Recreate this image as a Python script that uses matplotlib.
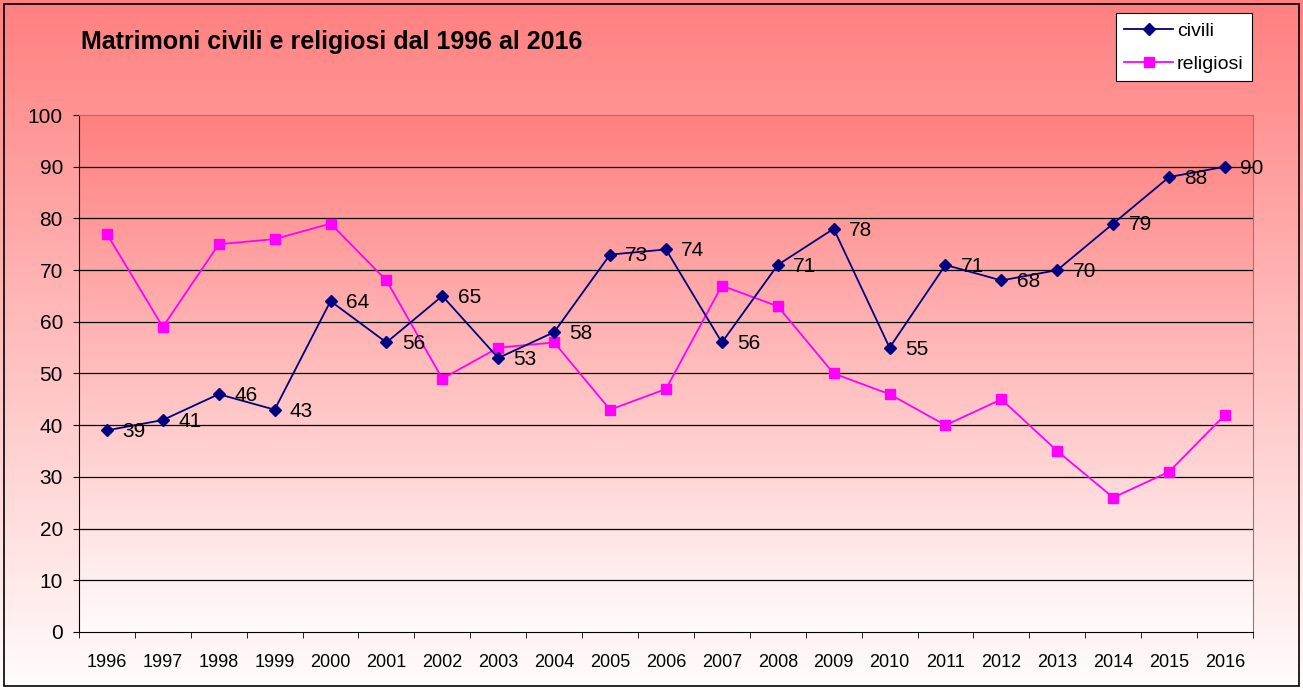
import numpy as np
import matplotlib
matplotlib.use('Agg')
import matplotlib.pyplot as plt
from matplotlib import colors
from matplotlib.patches import Rectangle

plt.rcParams['font.family'] = ['Liberation Sans', 'DejaVu Sans']

anni = [str(a) for a in range(1996, 2017)]
civili = [39, 41, 46, 43, 64, 56, 65, 53, 58, 73, 74, 56, 71, 78, 55, 71, 68, 70, 79, 88, 90]
religiosi = [77, 59, 75, 76, 79, 68, 49, 55, 56, 43, 47, 67, 63, 50, 46, 40, 45, 35, 26, 31, 42]

# red -> white gradient like the old excel fill
grad = colors.LinearSegmentedColormap.from_list('rosa', ['#ffffff', '#ff8080'])
g = np.linspace(0, 1, 256).reshape(-1, 1)

fig = plt.figure(figsize=(13.03, 6.90), dpi=100)

# figure background
bg = fig.add_axes([0, 0, 1, 1], zorder=-10)
bg.imshow(g, aspect='auto', cmap=grad, origin='lower', extent=[0, 1, 0, 1], vmin=-0.02, vmax=1)
bg.axis('off')
fig.patches.append(Rectangle((0.003, 0.006), 0.994, 0.988, transform=fig.transFigure,
                             fill=False, edgecolor='black', lw=1.2))

ax = fig.add_axes([0.0606, 0.0841, 0.9010, 0.7492])
ax.set_facecolor('none')
ax.imshow(g, aspect='auto', cmap=grad, origin='lower', extent=[0, 1, 0, 1],
          transform=ax.transAxes, zorder=0, vmin=-0.03, vmax=1)

x = np.arange(len(anni))
ax.plot(x, civili, color='#000080', marker='D', markersize=6, lw=1.3, label='civili', zorder=4)
ax.plot(x, religiosi, color='#ff00ff', marker='s', markersize=7, lw=1.3, label='religiosi', zorder=3)

for xi, v in zip(x, civili):
    ax.annotate(str(v), (xi, v), xytext=(11, -1), textcoords='offset points',
                ha='left', va='center', fontsize=15, color='black', zorder=5)

ax.set_xlim(-0.5, len(anni) - 0.5)
ax.set_ylim(0, 100)
ax.set_yticks(np.arange(0, 101, 10))
ax.tick_params(axis='y', labelsize=15, length=4.5, direction='out', pad=7)
ax.set_xticks(x)
ax.set_xticklabels(anni)
ax.set_xticks(np.arange(-0.5, len(anni), 1), minor=True)
ax.tick_params(axis='x', which='major', length=0, labelsize=13, pad=16)
ax.tick_params(axis='x', which='minor', length=4.5, direction='out')

for yv in np.arange(10, 100, 10):
    ax.axhline(yv, color='black', lw=0.9, zorder=1)

ax.spines['top'].set_color('#808080')
ax.spines['right'].set_color('#808080')
ax.spines['left'].set_color('black')
ax.spines['bottom'].set_color('black')

fig.text(0.062, 0.939, 'Matrimoni civili e religiosi dal 1996 al 2016', fontsize=18,
         fontweight='bold', ha='left', va='center')

leg = ax.legend(loc='upper right', bbox_to_anchor=(0.9995, 1.197), borderaxespad=0,
                fontsize=14, frameon=True, fancybox=False, edgecolor='black',
                facecolor='white', framealpha=1, handlelength=2.5, borderpad=0.45,
                labelspacing=0.8, handletextpad=0.2)
leg.get_frame().set_linewidth(0.8)

fig.savefig('out.png', dpi=100)
